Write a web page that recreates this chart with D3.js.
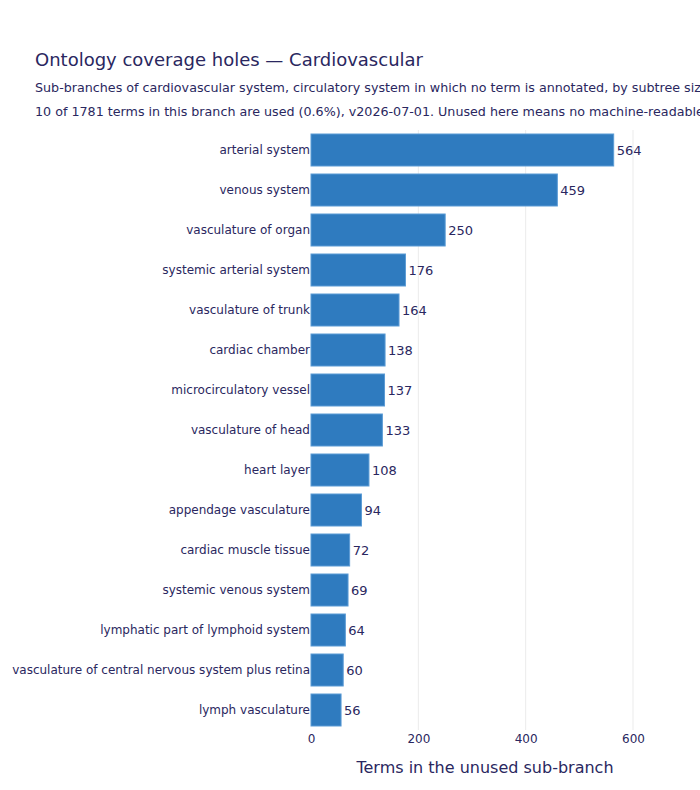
<!DOCTYPE html>
<html>
<head>
<meta charset="utf-8">
<script src="https://cdn.jsdelivr.net/npm/d3@7"></script>
<style>
  body { margin: 0; background: #fff; }
  text { font-family: "DejaVu Sans", sans-serif; }
</style>
</head>
<body>
<div id="chart"></div>
<script>
const categories = [
    "arterial system",
    "venous system",
    "vasculature of organ",
    "systemic arterial system",
    "vasculature of trunk",
    "cardiac chamber",
    "microcirculatory vessel",
    "vasculature of head",
    "heart layer",
    "appendage vasculature",
    "cardiac muscle tissue",
    "systemic venous system",
    "lymphatic part of lymphoid system",
    "vasculature of central nervous system plus retina",
    "lymph vasculature"
];
const values = [564, 459, 250, 176, 164, 138, 137, 133, 108, 94, 72, 69, 64, 60, 56];
const xTicks = [0, 200, 400, 600];

const width = 700;
const height = 790;
const marginTop = 130;
const marginBottom = 60;
const marginLeft = 311;
const ink = "#2a2760";

const svg = d3.select("#chart")
    .append("svg")
    .attr("width", width)
    .attr("height", height);

const x = d3.scaleLinear()
    .domain([0, 600])
    .range([marginLeft, 633]);

const y = d3.scaleBand()
    .domain(categories)
    .range([marginTop, height - marginBottom])
    .paddingInner(0.2)
    .paddingOuter(0.1);

// gridlines
svg.append("g")
    .selectAll("line")
    .data(xTicks.filter(d => d > 0))
    .join("line")
    .attr("x1", d => x(d))
    .attr("x2", d => x(d))
    .attr("y1", marginTop)
    .attr("y2", height - marginBottom)
    .attr("stroke", "#ebebeb")
    .attr("stroke-width", 1);

svg.append("g")
    .selectAll("rect")
    .data(values)
    .join("rect")
    .attr("x", x(0))
    .attr("y", (d, i) => y(categories[i]))
    .attr("width", d => x(d) - x(0))
    .attr("height", y.bandwidth())
    .attr("fill", "#2f7bbf")
    .attr("stroke", "#5b9bd5")
    .attr("stroke-width", 1);

svg.append("g")
    .selectAll("text")
    .data(values)
    .join("text")
    .attr("x", d => x(d) + 3)
    .attr("y", (d, i) => y(categories[i]) + y.bandwidth() / 2)
    .attr("dy", "0.35em")
    .attr("font-size", 13)
    .attr("fill", ink)
    .text(d => d);

// y axis labels
svg.append("g")
    .attr("transform", `translate(${marginLeft - 1},0)`)
    .call(d3.axisLeft(y).tickSize(0).tickPadding(0))
    .call(g => g.select(".domain").remove())
    .call(g => g.selectAll("text")
        .attr("font-family", "DejaVu Sans")
        .attr("font-size", 12)
        .attr("fill", ink));

// x axis
svg.append("g")
    .attr("transform", `translate(0,${height - marginBottom})`)
    .call(d3.axisBottom(x).tickValues(xTicks).tickSize(0).tickPadding(4))
    .call(g => g.select(".domain").remove())
    .call(g => g.selectAll("text")
        .attr("font-family", "DejaVu Sans")
        .attr("font-size", 12)
        .attr("fill", ink));

svg.append("text")
    .attr("x", 485)
    .attr("y", 773)
    .attr("text-anchor", "middle")
    .attr("font-size", 16)
    .attr("fill", ink)
    .text("Terms in the unused sub-branch");

svg.append("text")
    .attr("x", 35)
    .attr("y", 66)
    .attr("font-size", 18)
    .attr("fill", ink)
    .text("Ontology coverage holes — Cardiovascular");

svg.append("text")
    .attr("x", 35)
    .attr("y", 92)
    .attr("font-size", 12.7)
    .attr("fill", ink)
    .text("Sub-branches of cardiovascular system, circulatory system in which no term is annotated, by subtree size.");

svg.append("text")
    .attr("x", 35)
    .attr("y", 116)
    .attr("font-size", 12.7)
    .attr("fill", ink)
    .text("10 of 1781 terms in this branch are used (0.6%), v2026-07-01. Unused here means no machine-readable annotation.");
</script>
</body>
</html>
